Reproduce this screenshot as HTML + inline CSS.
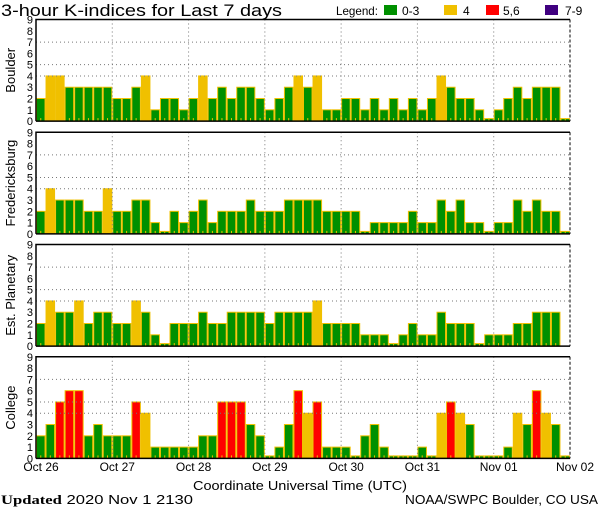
<!DOCTYPE html>
<html><head><meta charset="utf-8"><style>
body{margin:0;background:#fff;}
svg{display:block;font-family:"Liberation Sans",sans-serif;}
</style></head><body>
<svg id="chart" width="600" height="510" viewBox="0 0 600 510" xmlns="http://www.w3.org/2000/svg">
<text x="1" y="16" font-size="17" textLength="281" lengthAdjust="spacingAndGlyphs">3-hour K-indices for Last 7 days</text>
<g font-size="12">
<text x="336" y="15" textLength="42" lengthAdjust="spacingAndGlyphs">Legend:</text>
<rect x="384" y="5" width="13" height="10" fill="#009000"/>
<text x="402" y="15">0-3</text>
<rect x="444" y="5" width="13" height="10" fill="#f0c000"/>
<text x="463" y="15">4</text>
<rect x="486" y="5" width="13" height="10" fill="#ff0000"/>
<text x="503" y="15">5,6</text>
<rect x="545" y="5" width="13" height="10" fill="#400080"/>
<text x="565" y="15">7-9</text>
</g>
<g id="panels"></g>
<text x="193" y="490" font-size="13" textLength="214" lengthAdjust="spacingAndGlyphs">Coordinate Universal Time (UTC)</text>
<text x="1" y="504" font-size="13" textLength="192" lengthAdjust="spacingAndGlyphs"><tspan font-weight="bold" font-family="Liberation Serif,serif">Updated</tspan> 2020 Nov  1 2130</text>
<text x="405" y="504" font-size="13" textLength="193" lengthAdjust="spacingAndGlyphs">NOAA/SWPC Boulder, CO USA</text>
</svg>
<script>
const stations = ["Boulder","Fredericksburg","Est. Planetary","College"];
const boulder = [2,4,4,3,3,3,3,3, 2,2,3,4,1,2,2,1, 2,4,2,3,2,3,3,2, 1,2,3,4,3,4,1,1, 2,2,1,2,1,2,1,2, 1,2,4,3,2,2,1,0, 1,2,3,2,3,3,3,0];
const fredericksburg = [2,4,3,3,3,2,2,4, 2,2,3,3,1,0,2,1, 2,3,1,2,2,2,3,2, 2,2,3,3,3,3,2,2, 2,2,0,1,1,1,1,2, 1,1,3,2,3,1,1,0, 1,1,3,2,3,2,2,0];
const planetary = [2,4,3,3,4,2,3,3, 2,2,4,3,1,0,2,2, 2,3,2,2,3,3,3,3, 2,3,3,3,3,4,2,2, 2,2,1,1,1,0,1,2, 1,1,3,2,2,2,0,1, 1,1,2,2,3,3,3,null];
const college = [2,3,5,6,6,2,3,2, 2,2,5,4,1,1,1,1, 1,2,2,5,5,5,3,2, 0,1,3,6,4,5,1,1, 1,0,2,3,1,0,0,0, 1,0,4,5,4,3,0,0, 0,1,4,3,6,4,3,0];
const series = [boulder, fredericksburg, planetary, college];
const dayLabels = ["Oct 26","Oct 27","Oct 28","Oct 29","Oct 30","Oct 31","Nov 01","Nov 02"];
const yTicks = [0,1,2,3,4,5,6,7,8,9];
const gridLevels = [4,5,7];

const NS="http://www.w3.org/2000/svg";
const X0=36, X1=570, N=56, bw=(X1-X0)/N;
const tops=[19.5,132.3,244.5,356.8], H=101.6;
const g=document.getElementById('panels');
function mk(t,a,p){const e=document.createElementNS(NS,t);for(const k in a)e.setAttribute(k,a[k]);(p||g).appendChild(e);return e;}
function xs(i){return X0+i*bw;}
function color(v){return v<=3?"#009000":v==4?"#f0c000":v<=6?"#ff0000":"#400080";}
series.forEach((data,p)=>{
  const top=tops[p], bot=top+H;
  const ys=v=>bot-v*H/9;
  const pg=mk('g',{});
  
  
  data.forEach((v,i)=>{
    if(v===null)return;
    const y=v===0?bot-2.5:ys(v);
    const r=mk('rect',{x:xs(i)+0.5,y:y,width:bw-1,height:bot-y,fill:color(v),stroke:"#f0c000","stroke-width":1},pg);
    
    
    mk('rect',{x:xs(i)+bw/2-0.5,y:bot-3,width:1,height:3,fill:"#f0c000"},pg);
  });
  gridLevels.forEach(l=>{
    const ln=mk('line',{x1:X0,x2:X1,y1:ys(l),y2:ys(l),stroke:"#777","stroke-dasharray":"1,3"},pg);
    
    
  });
  for(let d=1;d<dayLabels.length-1;d++){
    const ln=mk('line',{x1:xs(d*8),x2:xs(d*8),y1:top,y2:bot,stroke:"#777","stroke-dasharray":"1,3"},pg);
    
    
  }
  const fr=mk('path',{d:`M${X0} ${bot}V${top}H${X1}`,fill:"none",stroke:"#000","stroke-width":1.5},pg);
  
  
  mk('line',{x1:X1,x2:X1,y1:top,y2:bot,stroke:"#000","stroke-dasharray":"3,2"},pg);
  mk('line',{x1:X0,x2:X1,y1:bot,y2:bot,stroke:"#000","stroke-width":1.5},pg);
  yTicks.forEach(t=>{
    const tx=mk('text',{x:33,y:ys(t)+4,"font-size":11,"text-anchor":"end"},pg);
    tx.textContent=t;
    
    
  });
  const cy=top+H/2;
  const tt=mk('text',{x:0,y:0,"font-size":13,"text-anchor":"middle",transform:`translate(15,${cy}) rotate(-90)`},pg);
  tt.textContent=stations[p];
  
  
});
dayLabels.forEach((l,d)=>{
  const t=mk('text',{x:xs(d*8)+5,y:471,"font-size":12,"text-anchor":"middle"});
  t.textContent=l;
  
  
});
</script>
</body></html>
